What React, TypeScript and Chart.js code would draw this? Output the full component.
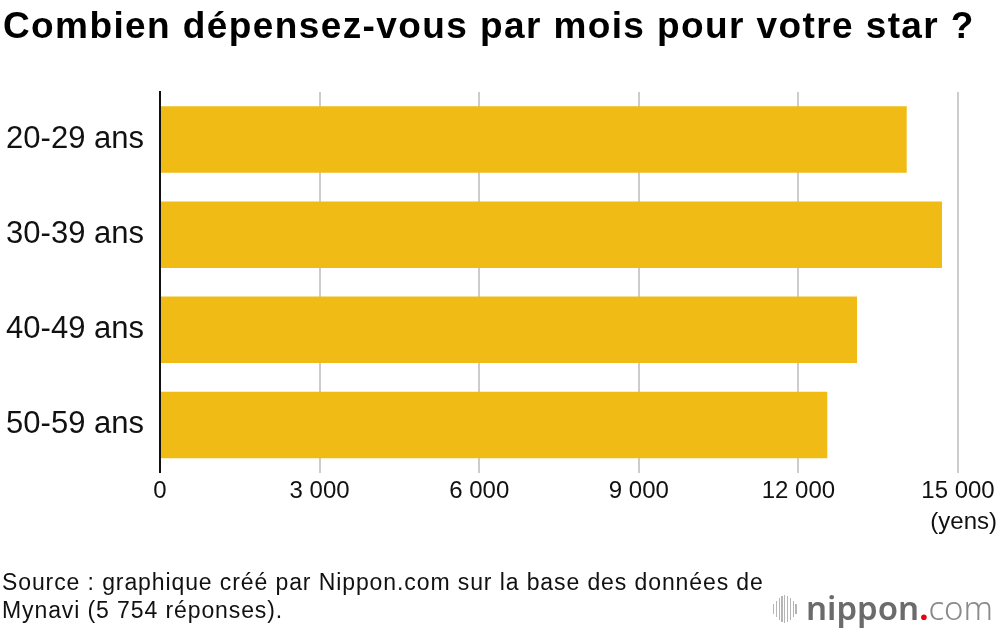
import React, { useEffect, useRef } from "react";
import { Chart, registerables } from "chart.js";

Chart.register(...registerables);

const categories: string[] = ["20-29 ans", "30-39 ans", "40-49 ans", "50-59 ans"];
const spending: number[] = [14036, 14699, 13102, 12543];
const xTickValues: number[] = [0, 3000, 6000, 9000, 12000, 15000];
const title = "Combien dépensez-vous par mois pour votre star ?";
const sourceLines: string[] = [
  "Source : graphique créé par Nippon.com sur la base des données de",
  "Mynavi (5 754 réponses).",
];
const unitLabel = "(yens)";

const FONT = "'Liberation Sans', Arial, Helvetica, sans-serif";

const fmt = (v: number) => {
  const s = Math.round(v).toString();
  return s.replace(/\B(?=(\d{3})+(?!\d))/g, " ");
};

const unitPlugin = {
  id: "unitLabel",
  afterDraw(chart: any) {
    const x = chart.scales.x;
    const ctx = chart.ctx;
    ctx.save();
    ctx.font = `24px ${FONT}`;
    ctx.fillStyle = "#111";
    ctx.textAlign = "right";
    ctx.textBaseline = "middle";
    ctx.fillText(unitLabel, x.getPixelForValue(15000) + 39, 522);
    ctx.restore();
  },
};

export default function App() {
  const ref = useRef<HTMLCanvasElement | null>(null);
  useEffect(() => {
    document.body.style.margin = "0";
    if (!ref.current) return;
    const chart = new Chart(ref.current, {
      type: "bar",
      data: {
        labels: categories,
        datasets: [
          {
            data: spending,
            backgroundColor: "#F1BB16",
            borderWidth: 0,
            barPercentage: 0.7,
            categoryPercentage: 1,
          },
        ],
      },
      options: {
        indexAxis: "y",
        animation: false,
        responsive: false,
        devicePixelRatio: 1,
        layout: { padding: { top: 92, right: 42, left: 0, bottom: 0 } },
        plugins: {
          legend: { display: false },
          tooltip: { enabled: false },
          title: { display: false },
        },
        scales: {
          x: {
            type: "linear",
            min: 0,
            max: 15000,
            afterBuildTicks: (scale: any) => {
              scale.ticks = xTickValues.map((v) => ({ value: v }));
            },
            afterFit: (scale: any) => {
              scale.height = 632 - 472.5;
            },
            grid: { color: "#cccccc", lineWidth: 2, drawTicks: false },
            border: { display: false },
            ticks: {
              padding: 4,
              color: "#111",
              font: { family: FONT, size: 24 },
              callback: (v: any) => fmt(Number(v)),
              maxRotation: 0,
            },
          },
          y: {
            type: "category",
            afterFit: (scale: any) => {
              scale.width = 160;
            },
            grid: { display: false, drawTicks: false },
            border: { display: true, color: "#111", width: 2 },
            ticks: {
              padding: 16,
              color: "#111",
              font: { family: FONT, size: 31 },
            },
          },
        },
      },
      plugins: [unitPlugin],
    });
    return () => chart.destroy();
  }, []);

  const barHeights = [10, 16, 22, 26, 28, 26, 22, 16, 10];

  return (
    <div style={{ position: "relative", width: 1000, height: 632, background: "#fff", overflow: "hidden" }}>
      <canvas ref={ref} width={1000} height={632} style={{ position: "absolute", left: 0, top: 0 }} />
      <div
        style={{
          position: "absolute",
          left: 3,
          top: 4,
          fontFamily: FONT,
          fontWeight: 700,
          fontSize: 37,
          letterSpacing: "1.4px",
          color: "#000",
          whiteSpace: "nowrap",
          lineHeight: "44px",
        }}
      >
        {title}
      </div>
      <div
        style={{
          position: "absolute",
          left: 2,
          top: 568,
          fontFamily: FONT,
          fontSize: 23,
          letterSpacing: "0.9px",
          color: "#111",
          lineHeight: "28px",
          whiteSpace: "nowrap",
        }}
      >
        {sourceLines.map((l, i) => (
          <div key={i}>{l}</div>
        ))}
      </div>
      <div style={{ position: "absolute", left: 773, top: 594, height: 30, display: "flex", alignItems: "center", gap: 1.5 }}>
        {barHeights.map((h, i) => (
          <div key={i} style={{ width: 1.3, height: h, background: "#b5b5b5" }} />
        ))}
      </div>
      <div
        style={{
          position: "absolute",
          left: 806,
          top: 588,
          fontFamily: "'Noto Sans', sans-serif",
          fontSize: 33,
          lineHeight: "40px",
          whiteSpace: "nowrap",
        }}
      >
        <span style={{ color: "#6b6b6b", fontWeight: 600 }}>nippon</span>
        <span style={{ color: "#e60012", fontWeight: 700 }}>.</span>
        <span style={{ color: "#8a8a8a", fontWeight: 300, fontSize: 33 }}>com</span>
      </div>
    </div>
  );
}
